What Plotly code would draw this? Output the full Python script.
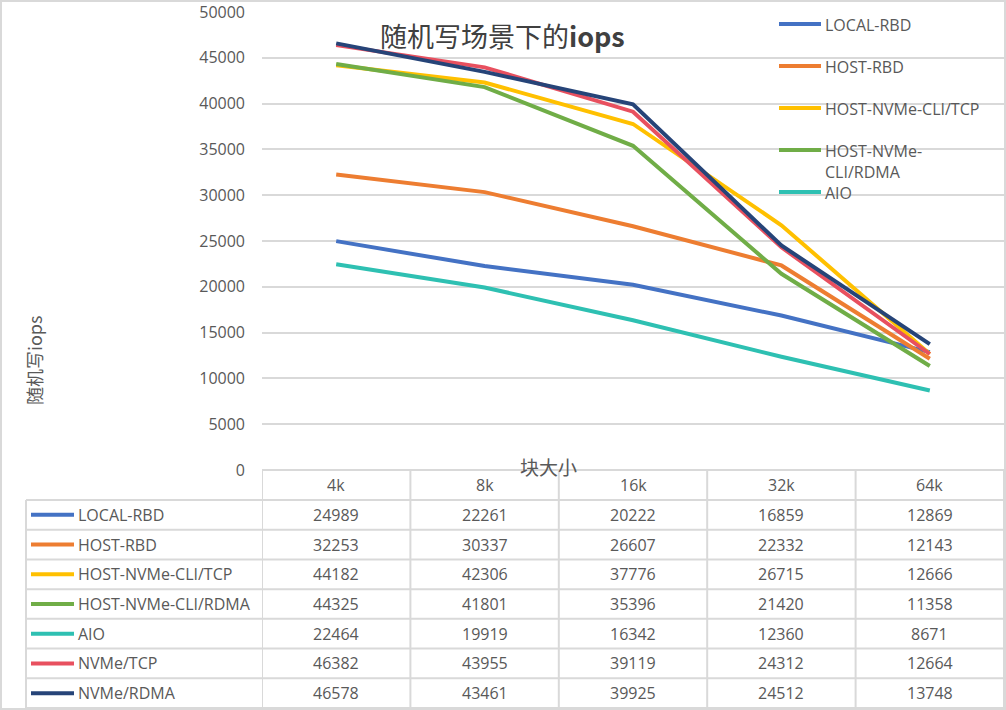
import plotly.graph_objects as go

# block sizes and iops for each access mode
block_sizes = ["4k", "8k", "16k", "32k", "64k"]
series_names = ["LOCAL-RBD", "HOST-RBD", "HOST-NVMe-CLI/TCP", "HOST-NVMe-CLI/RDMA",
                "AIO", "NVMe/TCP", "NVMe/RDMA"]
local_rbd = [24989, 22261, 20222, 16859, 12869]
host_rbd = [32253, 30337, 26607, 22332, 12143]
host_nvme_tcp = [44182, 42306, 37776, 26715, 12666]
host_nvme_rdma = [44325, 41801, 35396, 21420, 11358]
aio = [22464, 19919, 16342, 12360, 8671]
nvme_tcp = [46382, 43955, 39119, 24312, 12664]
nvme_rdma = [46578, 43461, 39925, 24512, 13748]
y_ticks = [0, 5000, 10000, 15000, 20000, 25000, 30000, 35000, 40000, 45000, 50000]

series_values = [local_rbd, host_rbd, host_nvme_tcp, host_nvme_rdma, aio, nvme_tcp, nvme_rdma]
colors = ["#4472C4", "#ED7D31", "#FFC000", "#70AD47", "#2EC0B2", "#E8505F", "#264478"]
legend_labels = ["LOCAL-RBD", "HOST-RBD", "HOST-NVMe-CLI/TCP", "HOST-NVMe-<br>CLI/RDMA", "AIO"]

W, H = 1006, 710
FONT = "Open Sans"
CJK = "Noto Sans CJK SC"
GREY = "#595959"
GRID = "#D9D9D9"


def px(x):
    return x / W


def py(y):
    return 1 - y / H


fig = go.Figure()
for name, vals, col in zip(series_names, series_values, colors):
    fig.add_trace(go.Scatter(
        x=list(range(len(block_sizes))), y=vals, name=name, mode="lines",
        line=dict(color=col, width=4), showlegend=False, hoverinfo="skip"
    ))

shapes = []
annotations = []

# outer chart border
shapes.append(dict(type="rect", xref="paper", yref="paper", x0=px(1), x1=px(W - 1),
                   y0=py(1), y1=py(H - 1), line=dict(color=GRID, width=2)))

# custom legend in the upper right
for i, (lab, col) in enumerate(zip(legend_labels, colors[:5])):
    yc = 24 + 42 * i
    shapes.append(dict(type="line", xref="paper", yref="paper", x0=px(779), x1=px(821),
                       y0=py(yc), y1=py(yc), line=dict(color=col, width=4)))
    annotations.append(dict(xref="paper", yref="paper", x=px(823), y=py(yc - 12),
                            text=lab, showarrow=False, xanchor="left", yanchor="top",
                            align="left", font=dict(family=FONT, size=16, color=GREY)))

# data table under the plot
top, hdr_bot, bottom = 470, 500, 708
row_h = (bottom - hdr_bot) / len(series_names)
n = len(block_sizes)
# vertical lines at category boundaries
for i in range(n + 1):
    shapes.append(dict(type="line", xref="x", yref="paper", x0=i - 0.5, x1=i - 0.5,
                       y0=py(top), y1=py(bottom), line=dict(color=GRID, width=2)))
shapes.append(dict(type="line", xref="paper", yref="paper", x0=px(26), x1=px(26),
                   y0=py(hdr_bot), y1=py(bottom), line=dict(color=GRID, width=2)))
shapes.append(dict(type="line", xref="x", yref="paper", x0=-0.5, x1=n - 0.5,
                   y0=py(top), y1=py(top), line=dict(color=GRID, width=2)))
for r in range(len(series_names) + 1):
    yy = hdr_bot + r * row_h
    shapes.append(dict(type="line", xref="paper", yref="paper", x0=px(26), x1=px(1004),
                       y0=py(yy), y1=py(yy), line=dict(color=GRID, width=2)))

for i, b in enumerate(block_sizes):
    annotations.append(dict(xref="x", yref="paper", x=i, y=py((top + hdr_bot) / 2),
                            text=b, showarrow=False, xanchor="center", yanchor="middle",
                            font=dict(family=FONT, size=16, color=GREY)))

for r, (name, vals, col) in enumerate(zip(series_names, series_values, colors)):
    yc = hdr_bot + (r + 0.5) * row_h
    shapes.append(dict(type="line", xref="paper", yref="paper", x0=px(31), x1=px(74),
                       y0=py(yc), y1=py(yc), line=dict(color=col, width=4)))
    annotations.append(dict(xref="paper", yref="paper", x=px(76), y=py(yc), text=name,
                            showarrow=False, xanchor="left", yanchor="middle",
                            font=dict(family=FONT, size=16, color=GREY)))
    for i, v in enumerate(vals):
        annotations.append(dict(xref="x", yref="paper", x=i, y=py(yc), text=str(v),
                                showarrow=False, xanchor="center", yanchor="middle",
                                font=dict(family=FONT, size=16, color=GREY)))

# titles
annotations.append(dict(xref="paper", yref="paper", x=px(502), y=py(35),
                        text="随机写场景下的<b>iops</b>", showarrow=False,
                        xanchor="center", yanchor="middle",
                        font=dict(family=CJK, size=27, color="#404040")))
annotations.append(dict(xref="paper", yref="paper", x=px(548), y=py(466), text="块大小",
                        showarrow=False, xanchor="center", yanchor="middle",
                        font=dict(family=CJK, size=19, color=GREY)))
annotations.append(dict(xref="paper", yref="paper", x=px(34), y=py(361), text="随机写iops",
                        showarrow=False, textangle=-90, xanchor="center", yanchor="middle",
                        font=dict(family=CJK, size=18, color=GREY)))

fig.update_layout(
    width=W, height=H,
    margin=dict(l=0, r=0, t=0, b=0, autoexpand=False),
    paper_bgcolor="white", plot_bgcolor="white",
    hovermode=False,
    xaxis=dict(domain=[px(262), px(1004)], range=[-0.5, n - 0.5], automargin=False,
               showticklabels=False, showgrid=False, zeroline=False, ticks=""),
    yaxis=dict(domain=[py(470), py(12)], range=[0, 50000], tickvals=y_ticks,
               tickformat="d", automargin=False,
               showgrid=True, gridcolor=GRID, gridwidth=1.5, zeroline=False,
               ticks="", ticklabelstandoff=16,
               tickfont=dict(family=FONT, size=16, color=GREY)),
    shapes=shapes,
    annotations=annotations,
)

# pin the graph to the top-left corner of the page
pin = ("var g=document.getElementById('{plot_id}');"
       "g.style.position='fixed';g.style.top='0';g.style.left='0';"
       "document.body.style.margin='0';document.body.style.overflow='hidden';"
       "document.documentElement.style.overflow='hidden';")
fig.write_html("out.html", config={"displayModeBar": False}, post_script=pin)
